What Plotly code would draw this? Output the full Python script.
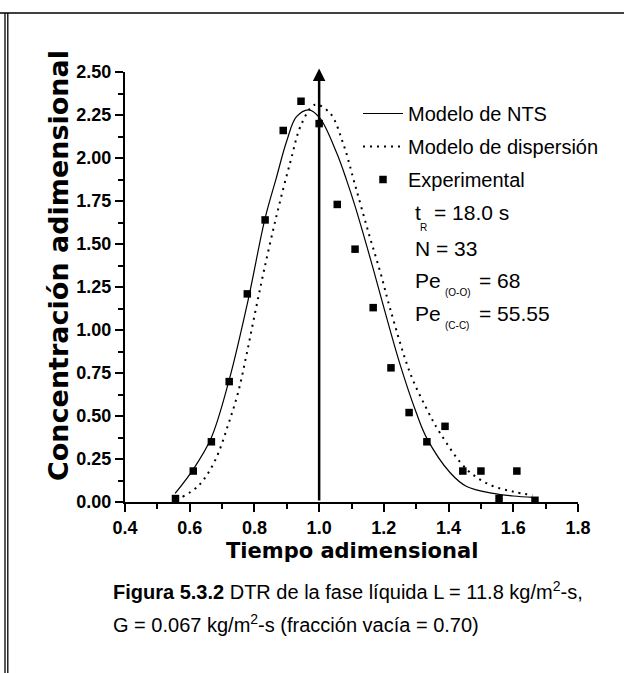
import plotly.graph_objects as go

# ---------------- data ----------------
theta_exp = [0.556, 0.611, 0.667, 0.722, 0.778, 0.833, 0.889, 0.944, 1.000, 1.056,
             1.111, 1.167, 1.222, 1.278, 1.333, 1.389, 1.444, 1.500, 1.556, 1.611, 1.667]
c_exp = [0.02, 0.18, 0.35, 0.70, 1.21, 1.64, 2.16, 2.33, 2.20, 1.73,
         1.47, 1.13, 0.78, 0.52, 0.35, 0.44, 0.18, 0.18, 0.02, 0.18, 0.01]

nts_x = [0.555, 0.611, 0.666, 0.722, 0.78, 0.833, 0.867, 0.90, 0.93, 0.969, 1.003,
         1.054, 1.085, 1.111, 1.168, 1.20, 1.25, 1.30, 1.333, 1.405, 1.456, 1.538, 1.60, 1.662]
nts_y = [0.05, 0.19, 0.37, 0.71, 1.17, 1.65, 1.88, 2.10, 2.24, 2.28, 2.23,
         2.03, 1.87, 1.72, 1.35, 1.13, 0.80, 0.52, 0.37, 0.17, 0.09, 0.05, 0.035, 0.027]

disp_x = [0.578, 0.63, 0.678, 0.719, 0.750, 0.776, 0.802, 0.83, 0.869, 0.91, 0.946, 0.987,
          1.034, 1.075, 1.11, 1.152, 1.19, 1.22, 1.281, 1.33, 1.374, 1.456, 1.528, 1.60, 1.66]
disp_y = [0.03, 0.10, 0.24, 0.45, 0.64, 0.86, 1.10, 1.35, 1.67, 1.97, 2.20, 2.31,
          2.26, 2.08, 1.85, 1.57, 1.33, 1.12, 0.75, 0.55, 0.40, 0.19, 0.10, 0.06, 0.04]

x_ticks = [0.4, 0.6, 0.8, 1.0, 1.2, 1.4, 1.6, 1.8]
y_ticks = [0.0, 0.25, 0.5, 0.75, 1.0, 1.25, 1.5, 1.75, 2.0, 2.25, 2.5]
theta_ref = 1.0

# ---------------- layout geometry ----------------
W, H = 624, 673
L, R, T, B = 125, 46, 72, 171
PW, PH = W - L - R, H - T - B


def px(xp):
    return (xp - L) / PW


def py(yp):
    return (H - B - yp) / PH


FONT = "Liberation Sans, Arial, sans-serif"
HEAVY = "DejaVu Sans, sans-serif"

fig = go.Figure()
fig.add_trace(go.Scatter(x=nts_x, y=nts_y, mode="lines", name="Modelo de NTS",
                         line=dict(color="black", width=1.2, shape="spline"),
                         legendgroup="a", legendrank=1))
fig.add_trace(go.Scatter(x=disp_x, y=disp_y, mode="lines", name="Modelo de dispersión",
                         line=dict(color="black", width=2, dash="2px,5px", shape="spline"),
                         legendgroup="b", legendrank=2))
fig.add_trace(go.Scatter(x=theta_exp, y=c_exp, mode="markers", name="Experimental",
                         marker=dict(symbol="square", size=7.5, color="black"),
                         legendgroup="c", legendrank=3))

axis_common = dict(showgrid=False, zeroline=False, showline=True, linecolor="black",
                   linewidth=2, ticks="outside", ticklen=8, tickwidth=2, tickcolor="black",
                   tickfont=dict(family=FONT, size=18, color="black", weight="bold"))

fig.update_xaxes(range=[0.4, 1.8], tickvals=x_ticks,
                 ticktext=[f"{v:.1f}" for v in x_ticks],
                 minor=dict(dtick=0.1, ticks="outside", ticklen=5, tickwidth=2, tickcolor="black"),
                 **axis_common)
fig.update_yaxes(range=[0, 2.5], tickvals=y_ticks,
                 ticktext=[f"{v:.2f}" for v in y_ticks],
                 minor=dict(dtick=0.125, ticks="outside", ticklen=5, tickwidth=2, tickcolor="black"),
                 **axis_common)

ann = []
# axis titles
ann.append(dict(x=px(58), y=py(266), xref="paper", yref="paper", text="Concentración adimensional",
                textangle=-90, showarrow=False, xanchor="center", yanchor="middle",
                font=dict(family=HEAVY, size=27, color="black", weight="bold")))
ann.append(dict(x=px(352), y=py(551), xref="paper", yref="paper", text="Tiempo adimensional",
                showarrow=False, xanchor="center", yanchor="middle",
                font=dict(family=HEAVY, size=21, color="black", weight="bold")))
# vertical arrow at theta = 1
ann.append(dict(x=theta_ref, y=2.52, ax=theta_ref, ay=0, xref="x", yref="y", axref="x", ayref="y",
                showarrow=True, arrowhead=2, arrowsize=1, arrowwidth=2.5, arrowcolor="black", text=""))

# parameters block
pf = dict(family=FONT, size=21, color="black")
sf = dict(family=FONT, size=10, color="black")


def txt(x, y, s, f, anchor="left"):
    ann.append(dict(x=px(x), y=py(y), xref="paper", yref="paper", text=s, showarrow=False,
                    xanchor=anchor, yanchor="middle", font=f))


txt(413, 213, "t", pf)
txt(418, 227, "R", sf)
txt(432, 213, "= 18.0 s", pf)
txt(413, 248, "N = 33", pf)
txt(413, 280, "Pe", pf)
txt(443, 292, "(O-O)", sf)
txt(477, 280, "= 68", pf)
txt(413, 313, "Pe", pf)
txt(443, 325, "(C-C)", sf)
txt(477, 313, "= 55.55", pf)

# caption
cf = dict(family=FONT, size=20, color="black")
txt(111, 590, "<b>Figura 5.3.2</b> DTR de la fase líquida L = 11.8 kg/m<sup>2</sup>-s,", cf)
txt(111, 623, "G = 0.067 kg/m<sup>2</sup>-s (fracción vacía = 0.70)", cf)

# page border lines
shapes = [
    dict(type="line", xref="paper", yref="paper", x0=px(0), x1=px(624), y0=py(13), y1=py(13),
         line=dict(color="black", width=1.5)),
    dict(type="line", xref="paper", yref="paper", x0=px(5), x1=px(5), y0=py(13), y1=py(673),
         line=dict(color="black", width=1.3)),
    dict(type="line", xref="paper", yref="paper", x0=px(7.8), x1=px(7.8), y0=py(13), y1=py(673),
         line=dict(color="black", width=1.3)),
]

fig.update_layout(
    width=W, height=H, margin=dict(l=L, r=R, t=T, b=B, pad=0),
    paper_bgcolor="white", plot_bgcolor="white",
    showlegend=True,
    legend=dict(x=px(358), y=py(94), xanchor="left", yanchor="top",
                font=dict(family=FONT, size=20, color="black"),
                bgcolor="rgba(0,0,0,0)", traceorder="grouped", tracegroupgap=4,
                itemwidth=40),
    annotations=ann, shapes=shapes,
)

fig.write_html("out.html")
